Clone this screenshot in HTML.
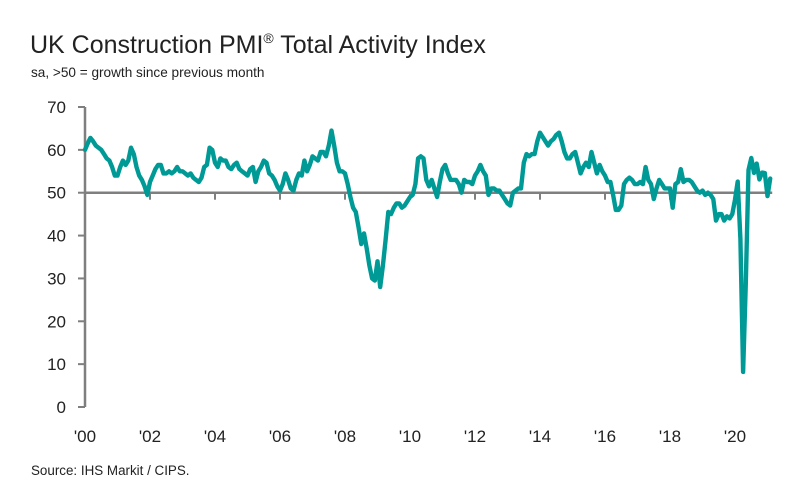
<!DOCTYPE html>
<html><head><meta charset="utf-8"><style>
body{margin:0;background:#fff;}
svg{display:block;font-family:"Liberation Sans",sans-serif;}
</style></head><body>
<svg id="chart" width="795" height="489">
<text x="30" y="53" font-size="25" fill="#222">UK Construction PMI<tspan font-size="14" dy="-10">®</tspan><tspan dy="10"> Total Activity Index</tspan></text>
<text x="31" y="77" font-size="13.6" fill="#222">sa, &gt;50 = growth since previous month</text>
<text x="31" y="475" font-size="13.4" fill="#222">Source: IHS Markit / CIPS.</text>
<g id="axes"></g>
<g id="series"></g>
</svg>
<script>
const yTicks=[0,10,20,30,40,50,60,70];
const xTickLabels=["'00","'02","'04","'06","'08","'10","'12","'14","'16","'18","'20"];
const xTickYears=[2000,2002,2004,2006,2008,2010,2012,2014,2016,2018,2020];
const startYear=2000;
const pmi=[
60,61.5,62.8,62,61,60.5,60,59,58,57.5,56,54,
54,56,57.5,56.5,57.5,60.5,59,56,54,53,51.5,49.5,
52.5,54,55.5,56.5,56.5,54.5,54.5,55,54.5,55,56,55,
55,54.5,54,54.5,53.5,53,52.5,53.5,56,56.5,60.5,60,
57,56,58,57.5,57.5,56,55.5,56.5,57,55.5,55,54.5,
54,55.5,56,52.5,55,56,57.5,57,54.5,54,53,51.5,
50.5,52,54.5,53,51,50.5,53,54.5,54,57.5,55,56.5,
58.5,58,57.5,59.5,59.5,58.5,61,64.5,61,57,55,55,
54.5,52,49,46.5,45.5,42,38,40.5,37,33,30,29.5,
34,28,33,39,45.5,45,46.5,47.5,47.5,46.5,47,48,
49,49.5,52,58,58.5,58,53,51.5,53,51,49,52.5,
55.5,56.5,54.5,53,53,53,52,50,53,52.5,52.5,52,
54,55,56.5,55,54,49.5,51,51,50.5,50.5,49.5,48.5,
47.5,47,50,50.5,51,51,57,59,58.5,59,59,62,
64,63,62,61,62,62.5,63.5,64,62,59.5,58,58,
59,59.5,57,54.5,56,57,56,59.5,57,54.5,56.5,55,
54,52.5,52.5,49.5,46,46,47,52,53,53.5,53,52,
52,52.5,52,56,53,52,48.5,51,53,52,51,51,
51,46.5,52,52.5,55.5,52.5,53,53,52.5,51.5,50.5,50,
50.5,49.5,50,49.5,48.5,43.5,45,45,43.5,44.5,44,45,
48.4,52.6,39.3,8.2,28.9,55.3,58.1,54.6,56.8,53.1,54.7,54.6,
49.2,53.3];
const NS="http://www.w3.org/2000/svg";
const X0=85,PXY=32.5,Y0=407,PXV=300/70;
function xm(m){return X0+m*PXY/12;}
function yv(v){return Y0-v*PXV;}
function mk(tag,attrs,parent){const e=document.createElementNS(NS,tag);for(const k in attrs)e.setAttribute(k,attrs[k]);parent.appendChild(e);return e;}
const axes=document.getElementById('axes');
const grey="#7f7f7f";
let yl=mk('line',{x1:X0,x2:X0,y1:yv(70),y2:yv(0),stroke:grey,'stroke-width':2.5},axes);


yTicks.forEach(t=>{
 let l=mk('line',{x1:X0-7,x2:X0,y1:yv(t),y2:yv(t),stroke:grey,'stroke-width':2},axes);
 
 
 let tx=mk('text',{x:66,y:yv(t)+6,'font-size':17,'text-anchor':'end',fill:'#222'},axes);
 tx.textContent=t;
 
 
});
let bl=mk('line',{x1:X0,x2:xm(pmi.length-1)+2,y1:yv(50),y2:yv(50),stroke:grey,'stroke-width':2.5},axes);


xTickYears.forEach((yr,i)=>{
 const x=xm((yr-startYear)*12);
 if(i>0){let l=mk('line',{x1:x,x2:x,y1:yv(50),y2:yv(50)+7,stroke:grey,'stroke-width':2},axes);
 
 }
 let tx=mk('text',{x:x,y:442,'font-size':17,'text-anchor':'middle',fill:'#222'},axes);
 tx.textContent=xTickLabels[i];
 
 
});
const d=pmi.map((v,i)=>(i?'L':'M')+xm(i).toFixed(1)+','+yv(v).toFixed(1)).join('');
let p=mk('path',{d:d,fill:'none',stroke:'#009a96','stroke-width':4.4,'stroke-linejoin':'round','stroke-linecap':'round'},document.getElementById('series'));


</script>
</body></html>
